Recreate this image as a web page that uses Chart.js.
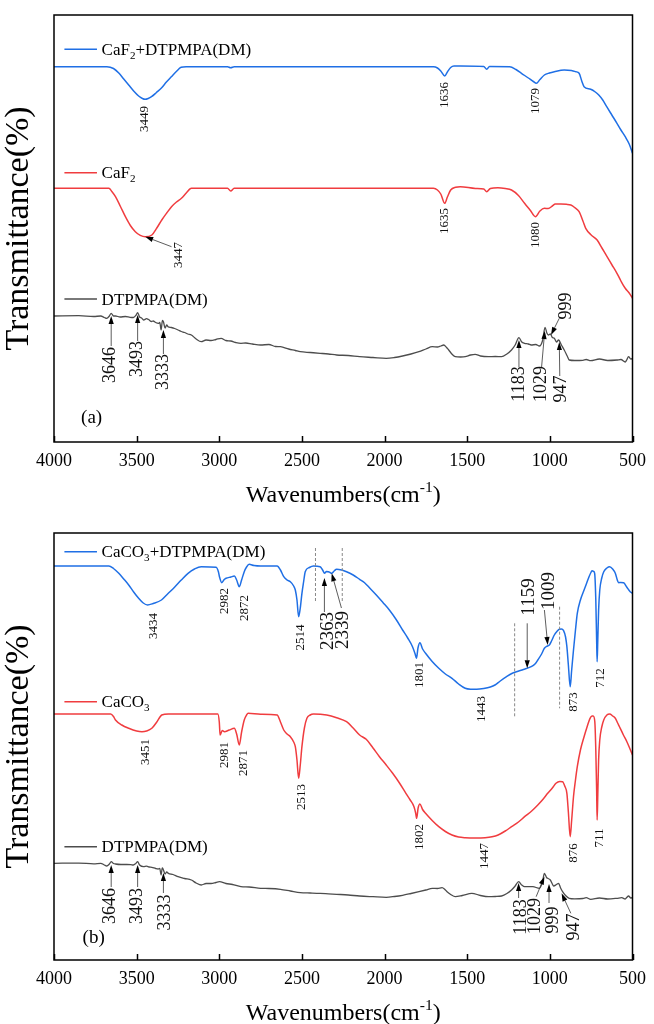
<!DOCTYPE html>
<html lang="en">
<head>
<meta charset="UTF-8">
<title>FTIR spectra</title>
<script src="https://cdn.jsdelivr.net/npm/chart.js"></script>
<style>
  body { margin: 0; background: #fff; }
  canvas { display: block; }
</style>
</head>
<body>
<canvas id="chartA" width="654" height="512"></canvas>
<canvas id="chartB" width="654" height="512"></canvas>
<script>
// [wavenumber cm-1, transmittance (a.u., curves stacked)]
const caF2Dtpmpa = [[4000,375.3],[3680,375.3],[3640,373.5],[3608,369],[3578,363],[3548,357],[3518,351],[3488,346],[3465,343.5],[3449,342.7],[3430,343.5],[3410,345.3],[3380,349.5],[3350,354],[3320,360],[3290,365.3],[3260,370.5],[3231,374.7],[3200,375.3],[2950,375.3],[2931,374.2],[2910,375.3],[1704,375.3],[1680,374],[1660,371],[1636,366],[1620,370],[1600,374.5],[1580,376],[1540,376],[1400,375.5],[1382,372.7],[1365,375.5],[1243,375.3],[1205,372.5],[1172,368.7],[1130,364],[1100,360.5],[1082,358.7],[1060,362.5],[1033,367],[1003,369],[973,370.3],[913,372],[870,371.5],[843,370.3],[823,368.7],[805,360],[793,355.3],[753,352.7],[725,350],[704,347],[680,342],[656,335.3],[625,327],[594,318.7],[570,312],[544,305.3],[520,298],[500,288.7]];
const caF2 = [[4000,253.7],[3668,253.7],[3650,250.5],[3628,245.3],[3598,235.5],[3568,225.3],[3538,216.5],[3508,210.3],[3478,206.7],[3448,205.3],[3408,207],[3378,214],[3348,222],[3318,229],[3289,235.3],[3259,240],[3229,243.7],[3200,249],[3169,253.7],[2950,253.7],[2931,251],[2910,253.7],[1704,253.7],[1680,252],[1660,248],[1636,238.7],[1620,245],[1600,252],[1570,254.8],[1542,255.3],[1450,253.5],[1400,253],[1382,250.3],[1360,253.5],[1314,254.3],[1270,253.5],[1232,252],[1190,246.5],[1153,238.7],[1120,232],[1087,225.3],[1060,231],[1033,233.7],[1010,233.5],[985,236],[967,238],[933,238],[900,237.7],[873,237],[850,234.5],[823,230.3],[800,221],[783,213.7],[750,207],[714,202],[685,194],[654,185.3],[624,177],[594,168.7],[570,161],[544,153.7],[520,149],[500,143.7]];
const dtpmpaA = [[4000,126],[3850,126.3],[3760,125.5],[3717,126],[3695,124.5],[3681,123.7],[3665,126],[3654,128.7],[3640,126],[3628,126],[3600,125],[3568,125.5],[3540,124.7],[3520,124.5],[3505,126.5],[3494,129.3],[3482,125],[3470,124],[3458,122],[3440,123.3],[3428,122.5],[3410,120.5],[3400,121],[3385,119.5],[3368,118.7],[3360,119.5],[3352,112],[3344,121.5],[3338,120.3],[3328,114],[3318,117],[3310,115.3],[3290,114.5],[3270,113.5],[3249,112],[3230,110.5],[3210,109.5],[3190,108],[3169,107],[3140,103],[3109,100.3],[3080,102],[3050,101.5],[3020,102.5],[2989,103.7],[2960,101.5],[2930,101],[2900,99.5],[2869,98.7],[2840,99],[2800,98],[2750,97],[2700,97.5],[2660,95.5],[2630,95.3],[2580,93],[2540,91.5],[2510,90.3],[2450,89.5],[2390,88.7],[2340,88],[2290,87],[2220,86.5],[2151,85.3],[2070,84.5],[1990,83.7],[1940,84.5],[1891,86],[1840,88],[1792,90.3],[1750,93],[1711,95.3],[1680,95],[1660,96],[1642,97],[1625,94.5],[1612,92],[1590,87.5],[1572,85.3],[1540,85],[1512,85.3],[1480,87],[1452,87.7],[1420,86],[1372,85.3],[1330,85.5],[1292,85.3],[1260,88],[1232,92],[1210,97],[1187,104.3],[1170,100],[1153,98.7],[1130,98],[1113,97],[1085,97.5],[1063,96],[1045,101],[1029,114.7],[1018,109],[1009,107],[997,108],[985,104.5],[973,103.7],[960,100],[947,102],[930,97],[913,92],[895,86],[883,82],[850,81.5],[800,81.7],[780,82.5],[753,81.3],[700,83],[650,81.5],[594,82],[570,82.5],[544,80],[535,82],[524,85.3],[510,83],[500,83.7]];

const caCO3Dtpmpa = [[4000,394],[3668,394],[3640,391.5],[3608,386.7],[3578,381],[3548,375],[3518,368],[3488,361.7],[3460,357],[3434,355],[3400,356.5],[3350,360],[3310,366.5],[3268,373.3],[3230,380],[3189,386.7],[3150,391],[3109,393.3],[3019,392.7],[3005,388],[2999,383.3],[2985,377.3],[2970,380.5],[2959,381.7],[2930,383],[2909,384],[2895,380],[2879,373.3],[2865,380],[2849,388.3],[2835,393],[2819,395.7],[2790,394.5],[2750,394],[2650,394],[2630,390],[2610,383.3],[2590,380],[2570,378.3],[2550,374],[2540,370],[2530,360],[2520,343.3],[2510,352],[2500,366.7],[2490,378],[2480,388.3],[2455,392.5],[2430,394],[2390,393.3],[2375,390],[2363,386.7],[2352,388.5],[2340,388.3],[2330,387.5],[2320,386.7],[2305,389],[2290,390.7],[2260,390],[2230,388.3],[2190,385],[2151,380.7],[2121,377.3],[2090,372],[2050,365],[2010,357.5],[1971,350],[1930,340.5],[1891,330],[1860,322],[1831,313.3],[1815,306],[1807,301.7],[1798,312],[1786,317.3],[1770,311],[1752,306.7],[1712,298.5],[1672,291.7],[1632,286],[1592,281.7],[1552,276],[1512,271.7],[1480,270.8],[1443,270.7],[1400,271.5],[1360,273],[1332,275],[1300,279],[1262,283.3],[1230,286.5],[1202,288.3],[1160,290.5],[1113,293.3],[1090,296],[1073,300],[1050,306],[1033,311.7],[1015,314],[1003,315],[990,319],[973,325],[955,329],[943,330.7],[930,331],[917,329.3],[905,323],[897,313.3],[888,295],[877,273.3],[868,290],[857,310],[845,330],[834,346.7],[815,360],[793,370],[775,378],[763,383.3],[750,388],[744,389.3],[735,388.5],[729,386.7],[722,360],[717,320],[714,298.3],[710,320],[705,350],[698,370],[686,382],[674,388.3],[655,392],[638,393.3],[620,391],[604,386.7],[590,379],[584,377.3],[570,377.5],[554,377.3],[535,373],[514,368.3],[500,366.7]];
const caCO3 = [[4000,246],[3657,246],[3640,243.5],[3628,240],[3590,235],[3548,231.7],[3500,229],[3468,228.3],[3440,229],[3408,231.7],[3378,238],[3348,245],[3308,246],[3009,246],[3000,238],[2995,225],[2982,229.5],[2969,228.3],[2940,230],[2909,231.7],[2895,226],[2879,215],[2865,228],[2849,240],[2835,245],[2825,246.7],[2750,245.7],[2650,245],[2630,238],[2610,230],[2590,226],[2570,223.3],[2550,218],[2540,213.3],[2530,200],[2520,181.7],[2510,195],[2500,213.3],[2485,232],[2470,241.7],[2450,245],[2430,246],[2350,245],[2290,242.3],[2230,238.3],[2190,232],[2151,225],[2111,220.7],[2070,212],[2031,203.3],[1990,195],[1951,186.7],[1910,177],[1871,166.7],[1845,160],[1822,153.3],[1812,147],[1806,141.7],[1797,152],[1786,156],[1770,150.5],[1752,146.7],[1712,139.5],[1672,133.3],[1632,128.5],[1592,125],[1552,123],[1512,122.3],[1450,122],[1392,122.3],[1350,123.2],[1313,125],[1270,129],[1232,133.3],[1190,138],[1153,143.3],[1110,149],[1073,155],[1040,161],[1013,166.7],[985,172],[963,176.7],[940,178.5],[923,178.3],[910,174],[897,166.7],[888,148],[877,123.3],[868,140],[857,163.3],[845,180],[834,193.3],[815,210],[793,223.3],[775,233],[757,241.7],[745,244],[738,244],[728,238.3],[722,210],[717,170],[714,140],[710,165],[705,200],[698,220],[686,233],[674,240],[655,245],[638,246],[620,244],[604,241.7],[590,237],[574,231.7],[555,225],[534,218.3],[515,211],[500,205]];
const dtpmpaB = [[4000,96.7],[3850,96.9],[3760,96.2],[3717,96.7],[3695,95],[3681,94],[3665,96],[3654,98.3],[3640,96.5],[3628,96],[3595,95.5],[3560,95.5],[3535,95.3],[3520,95],[3505,96.5],[3494,98.3],[3482,95],[3458,93.3],[3440,93.8],[3425,93],[3408,92.7],[3385,91.5],[3370,91],[3360,91.5],[3352,85],[3345,92],[3340,91],[3328,86],[3318,88],[3308,86.7],[3280,85.5],[3249,83.3],[3210,81.5],[3169,80],[3140,77],[3109,75],[3080,76.5],[3050,76.5],[3020,77.5],[2999,78.3],[2960,76.5],[2920,75.5],[2869,73.3],[2820,73],[2750,71.7],[2700,71.5],[2630,70.7],[2570,69],[2510,67.3],[2450,67],[2390,66.7],[2340,66.2],[2290,65.7],[2220,65],[2151,64],[2070,63.3],[1990,62.7],[1940,63.5],[1891,64.7],[1840,66.5],[1792,68.3],[1750,70],[1711,71.7],[1680,71.5],[1652,72.3],[1635,70.5],[1622,68.3],[1600,65.5],[1572,63.3],[1530,64.5],[1472,66.7],[1420,64.5],[1372,63.3],[1330,63.5],[1292,64],[1260,66.5],[1232,70],[1210,74],[1189,78.3],[1170,75],[1153,73.3],[1103,73.3],[1063,71.7],[1045,78],[1033,86.7],[1020,82.5],[1013,81.7],[997,80],[985,76],[977,74],[960,75.5],[947,76.7],[935,72],[923,68.3],[905,64.5],[883,61.7],[850,61.2],[800,61.5],[780,62.3],[753,60.7],[700,62],[650,61],[594,61.7],[565,62.3],[544,61],[535,62.5],[524,64],[510,62],[500,62.7]];

const xTicks = [4000, 3500, 3000, 2500, 2000, 1500, 1000, 500];

const BLUE = '#1f6fe5', RED = '#f03c3f', GRAY = '#4d4d4d';
const FONT = '"Liberation Serif", "Times New Roman", serif';

// annotations: [text, wavenumber, level, font size]
const panelA = {
  tag: '(a)', tagAt: [3836, 24], top: 15, axisH: 70, titleY: 494,
  legend: [
    { parts: [['CaF', 0], ['2', 1], ['+DTPMPA(DM)', 0]], color: BLUE, t: 392.7 },
    { parts: [['CaF', 0], ['2', 1]], color: RED, t: 269.3 },
    { parts: [['DTPMPA(DM)', 0]], color: GRAY, t: 143 }
  ],
  labels: [
    ['3449', 3454, 323, 13], ['1636', 1636, 347, 13], ['1079', 1087, 341, 13],
    ['3447', 3249, 187, 13], ['1635', 1636, 221, 13], ['1080', 1087, 207, 13],
    ['3646', 3661, 77, 18], ['3493', 3498, 83, 18], ['3333', 3338, 70, 18],
    ['1183', 1183, 58, 18], ['1029', 1053, 58, 18], ['947', 933, 53, 18], ['999', 899, 136, 18]
  ],
  arrows: [
    [3289, 195.3, 3448, 205.3],
    [3654, 96, 3654, 126], [3494, 101, 3494, 127], [3338, 88, 3338, 112],
    [1187, 75, 1187, 102], [1050, 75, 1031, 111], [940, 66, 943, 100], [943, 123.7, 993, 107]
  ],
  dashed: []
};
const panelB = {
  tag: '(b)', tagAt: [3827, 22], top: 21, axisH: 64, titleY: 500,
  legend: [
    { parts: [['CaCO', 0], ['3', 1], ['+DTPMPA(DM)', 0]], color: BLUE, t: 408.3 },
    { parts: [['CaCO', 0], ['3', 1]], color: RED, t: 258.3 },
    { parts: [['DTPMPA(DM)', 0]], color: GRAY, t: 113.3 }
  ],
  labels: [
    ['3434', 3398, 334, 13], ['2982', 2969, 359, 13], ['2872', 2849, 352, 13], ['2514', 2506, 322.5, 13],
    ['2363', 2344, 329, 19], ['2339', 2250, 330, 19], ['1801', 1786, 285, 13], ['1443', 1416, 251, 13],
    ['1159', 1129, 363, 19], ['1009', 1003, 369, 19], ['873', 857, 258, 13], ['712', 693, 282, 13],
    ['3451', 3448, 208, 13], ['2981', 2969, 205, 13], ['2871', 2853, 197, 13], ['2513', 2500, 163, 13],
    ['1802', 1788, 123, 13], ['1447', 1397, 104, 13], ['876', 857, 107, 13], ['711', 697, 122, 13],
    ['3646', 3661, 54, 18], ['3493', 3498, 54, 18], ['3333', 3328, 47.5, 18],
    ['1183', 1176, 43, 18], ['1029', 1090, 44, 18], ['999', 977, 40, 18], ['947', 853, 33, 18]
  ],
  arrows: [
    [2364, 348, 2364, 382], [2261, 352, 2320, 386.7], [1137, 336.7, 1137, 291.7], [1033, 350, 1013, 315],
    [3654, 73, 3654, 95], [3494, 73, 3494, 95], [3338, 67, 3338, 87],
    [1189, 62, 1189, 77], [1083, 63.3, 1033, 83.3], [1005, 57, 1005, 76], [873, 46.7, 929, 66.7]
  ],
  dashed: [[2418, 412, 358.3], [2256, 412, 358.3], [1213, 336.7, 241.7], [941, 353.3, 251.7]]
};

function richText(ctx, parts, x, y, size) {
  let cx = x;
  parts.forEach(([s, mode]) => {
    const fs = mode ? size * 0.65 : size;
    ctx.font = fs + 'px ' + FONT;
    const dy = mode === 1 ? size * 0.22 : mode === -1 ? -size * 0.4 : 0;
    ctx.fillText(s, cx, y + size * 0.33 + dy);
    cx += ctx.measureText(s).width;
  });
  return cx - x;
}

function arrow(ctx, x1, y1, x2, y2) {
  const a = Math.atan2(y2 - y1, x2 - x1), L = 8, W = 2.6;
  const bx = x2 - L * Math.cos(a), by = y2 - L * Math.sin(a);
  ctx.lineWidth = 0.8;
  ctx.beginPath(); ctx.moveTo(x1, y1); ctx.lineTo(bx, by); ctx.stroke();
  ctx.beginPath(); ctx.moveTo(x2, y2);
  ctx.lineTo(bx + W * Math.sin(a), by - W * Math.cos(a));
  ctx.lineTo(bx - W * Math.sin(a), by + W * Math.cos(a));
  ctx.closePath(); ctx.fill();
}

function decor(p) {
  return {
    id: 'decor',
    afterDraw(chart) {
      const { ctx, chartArea: a, scales: { x, y } } = chart;
      const px = w => x.getPixelForValue(w), py = v => y.getPixelForValue(v);
      ctx.save();
      ctx.fillStyle = '#000'; ctx.strokeStyle = '#000';
      // frame + inward ticks
      ctx.lineWidth = 1.5;
      ctx.strokeRect(a.left, a.top, a.right - a.left, a.bottom - a.top);
      xTicks.forEach(t => {
        const X = Math.round(px(t)) + 0.5;
        ctx.beginPath(); ctx.moveTo(X, a.bottom); ctx.lineTo(X, a.bottom - 6); ctx.stroke();
      });
      // legend-like captions next to each curve
      p.legend.forEach(l => {
        const Y = py(l.t);
        ctx.strokeStyle = l.color; ctx.lineWidth = 1.5;
        ctx.beginPath(); ctx.moveTo(px(3937), Y); ctx.lineTo(px(3740), Y); ctx.stroke();
        ctx.fillStyle = '#000'; ctx.textAlign = 'left'; ctx.textBaseline = 'alphabetic';
        richText(ctx, l.parts, px(3712), Y, 17);
      });
      ctx.strokeStyle = '#000'; ctx.fillStyle = '#000';
      // dashed guides
      ctx.setLineDash([3, 2]); ctx.strokeStyle = '#888'; ctx.lineWidth = 1;
      p.dashed.forEach(([w, t1, t2]) => {
        ctx.beginPath(); ctx.moveTo(px(w), py(t1)); ctx.lineTo(px(w), py(t2)); ctx.stroke();
      });
      ctx.setLineDash([]); ctx.strokeStyle = '#333'; ctx.fillStyle = '#000';
      p.arrows.forEach(([w1, t1, w2, t2]) => arrow(ctx, px(w1), py(t1), px(w2), py(t2)));
      // rotated peak labels
      ctx.fillStyle = '#111';
      p.labels.forEach(([s, w, t, size]) => {
        ctx.save(); ctx.translate(px(w), py(t)); ctx.rotate(-Math.PI / 2);
        ctx.font = size + 'px ' + FONT; ctx.textAlign = 'center'; ctx.textBaseline = 'middle';
        ctx.fillText(s, 0, 0); ctx.restore();
      });
      ctx.fillStyle = '#000';
      ctx.font = '19px ' + FONT; ctx.textAlign = 'left'; ctx.textBaseline = 'middle';
      ctx.fillText(p.tag, px(p.tagAt[0]), py(p.tagAt[1]));
      // axis titles
      ctx.textAlign = 'left'; ctx.textBaseline = 'alphabetic';
      const parts = [['Wavenumbers(cm', 0], ['-1', -1], [')', 0]];
      let wsum = 0;
      parts.forEach(([s, m]) => { ctx.font = (m ? 24 * 0.65 : 24) + 'px ' + FONT; wsum += ctx.measureText(s).width; });
      richText(ctx, parts, (a.left + a.right) / 2 - wsum / 2, p.titleY, 24);
      ctx.save();
      ctx.translate(19, (a.top + a.bottom) / 2); ctx.rotate(-Math.PI / 2);
      ctx.font = '34px ' + FONT; ctx.textAlign = 'center'; ctx.textBaseline = 'middle';
      ctx.fillText('Transmittance(%)', 0, 0);
      ctx.restore();
      ctx.restore();
    }
  };
}

function makeChart(id, p, series) {
  return new Chart(document.getElementById(id), {
    type: 'line',
    data: {
      datasets: series.map(([pts, color, w]) => ({
        data: pts.map(([wn, t]) => ({ x: wn, y: t })),
        borderColor: color, borderWidth: w, pointRadius: 0,
        cubicInterpolationMode: 'monotone', fill: false
      }))
    },
    options: {
      responsive: false, animation: false,
      layout: { padding: { left: 54, right: 15, top: p.top, bottom: 0 } },
      plugins: { legend: { display: false }, tooltip: { enabled: false } },
      scales: {
        x: {
          type: 'linear', reverse: true, min: 500, max: 4000,
          grid: { display: false, drawTicks: false }, border: { display: false },
          afterBuildTicks: s => { s.ticks = xTicks.map(v => ({ value: v })); },
          afterFit: s => { s.height = p.axisH; },
          ticks: { padding: 8, color: '#000', maxRotation: 0, autoSkip: false,
                   font: { family: FONT, size: 18 }, callback: v => String(v) }
        },
        y: { display: false, min: 0, max: 427 }
      }
    },
    plugins: [decor(p)]
  });
}

makeChart('chartA', panelA, [[caF2Dtpmpa, BLUE, 1.5], [caF2, RED, 1.5], [dtpmpaA, GRAY, 1.3]]);
makeChart('chartB', panelB, [[caCO3Dtpmpa, BLUE, 1.5], [caCO3, RED, 1.5], [dtpmpaB, GRAY, 1.3]]);
</script>
</body>
</html>
